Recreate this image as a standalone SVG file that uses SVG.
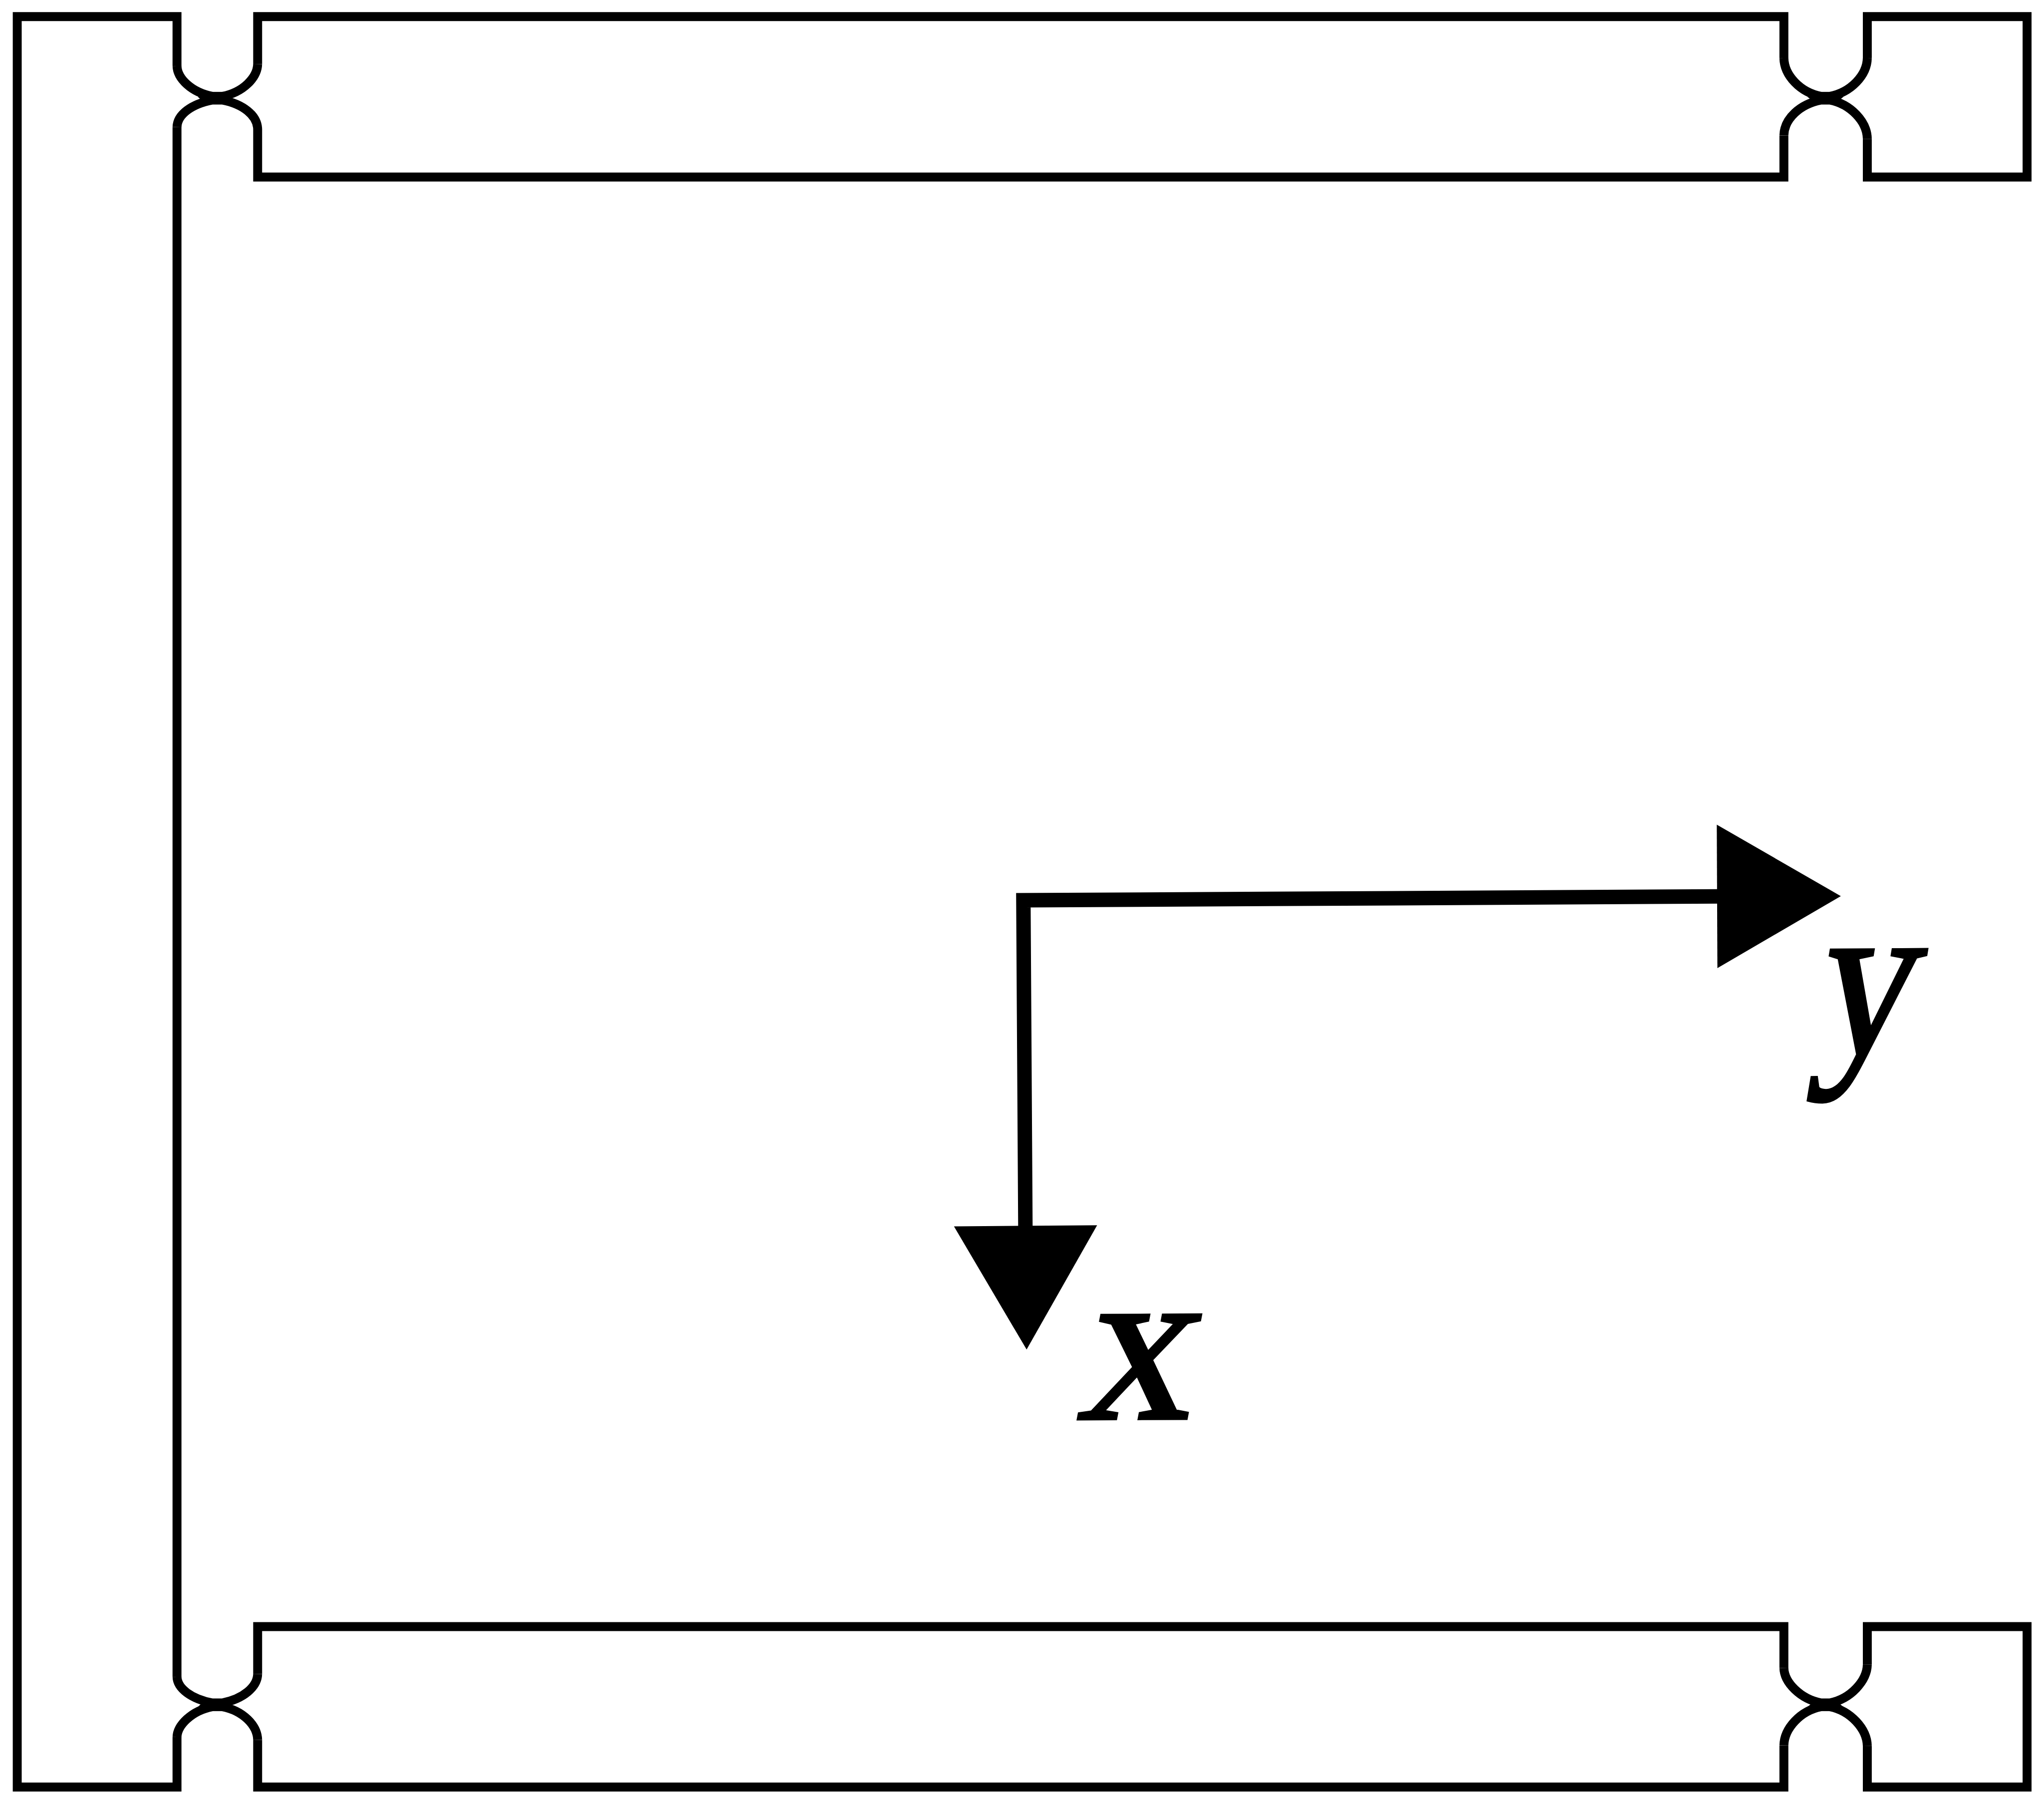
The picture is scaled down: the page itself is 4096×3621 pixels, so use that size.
<svg xmlns="http://www.w3.org/2000/svg" width="4096" height="3621" viewBox="0 0 4096 3621">
<style>
.o{fill:none;stroke:#000;stroke-width:29;stroke-linejoin:miter;stroke-linecap:butt}
.a{fill:none;stroke:#000;stroke-width:47;stroke-linejoin:miter}
.h{fill:#000;stroke:none}
.t{font-family:"Liberation Serif","Times New Roman",serif;font-size:730px;fill:#000;stroke:#000;stroke-width:11}
</style>
<rect width="4096" height="3621" fill="#fff"/>
<g transform="scale(0.61687)">
<g id="frame">
<path class="o" d="M575 214V54H56V5805H575V5643"/>
<path class="o" d="M575 413V5447"/>
<path class="o" d="M837 208V54H5795V188"/>
<path class="o" d="M837 420V575H5795V440"/>
<path class="o" d="M6066 188V54H6585V575H6066V451"/>
<path class="o" d="M837 5438V5284H5795V5418"/>
<path class="o" d="M837 5652V5805H5795V5670"/>
<path class="o" d="M6066 5407V5284H6585V5805H6066V5672"/>
</g>
<g id="notches">
<path class="o" d="M575 214C576 255 622 300 690 313H722C790 300 836 252 837 208"/>
<path class="o" d="M575 413C576 372 622 338 690 325H722C790 338 836 375 837 420"/>
<path class="o" d="M5795 188C5796 245 5848 300 5916 313H5944C6012 300 6065 245 6066 188"/>
<path class="o" d="M5795 440C5796 385 5848 338 5916 325H5944C6012 338 6065 395 6066 451"/>
<path class="o" d="M575 5447C576 5485 622 5519 690 5532H722C790 5519 836 5480 837 5438"/>
<path class="o" d="M575 5643C576 5605 622 5557 690 5544H722C790 5557 836 5605 837 5652"/>
<path class="o" d="M5795 5418C5796 5465 5848 5519 5916 5532H5944C6012 5519 6065 5460 6066 5407"/>
<path class="o" d="M5795 5670C5796 5615 5848 5557 5916 5544H5944C6012 5557 6065 5617 6066 5672"/>
<polygon class="h" points="643,315 670,299 742,299 756,315 742,339 670,339"/>
<polygon class="h" points="5872,315 5902,299 5958,299 5988,315 5958,339 5902,339"/>
<polygon class="h" points="643,5545 670,5518 742,5518 756,5545 742,5558 670,5558"/>
<polygon class="h" points="5872,5545 5902,5518 5958,5518 5988,5545 5958,5558 5902,5558"/>
</g>
<g id="axes">
<path class="a" d="M5580 2912L3324.5 2924.5L3331 3985"/>
<polygon class="h" points="5577,2679 5980,2911 5579,3145"/>
<polygon class="h" points="3099,3984 3564,3980 3335,4384"/>
</g>
<g id="labels">
<text class="t" transform="translate(3497 4609) rotate(-0.3) skewX(-11)">x</text>
<text class="t" transform="translate(5885 3422) rotate(-0.3) scale(0.88 1) skewX(-11)">y</text>
</g>
</g>
</svg>
